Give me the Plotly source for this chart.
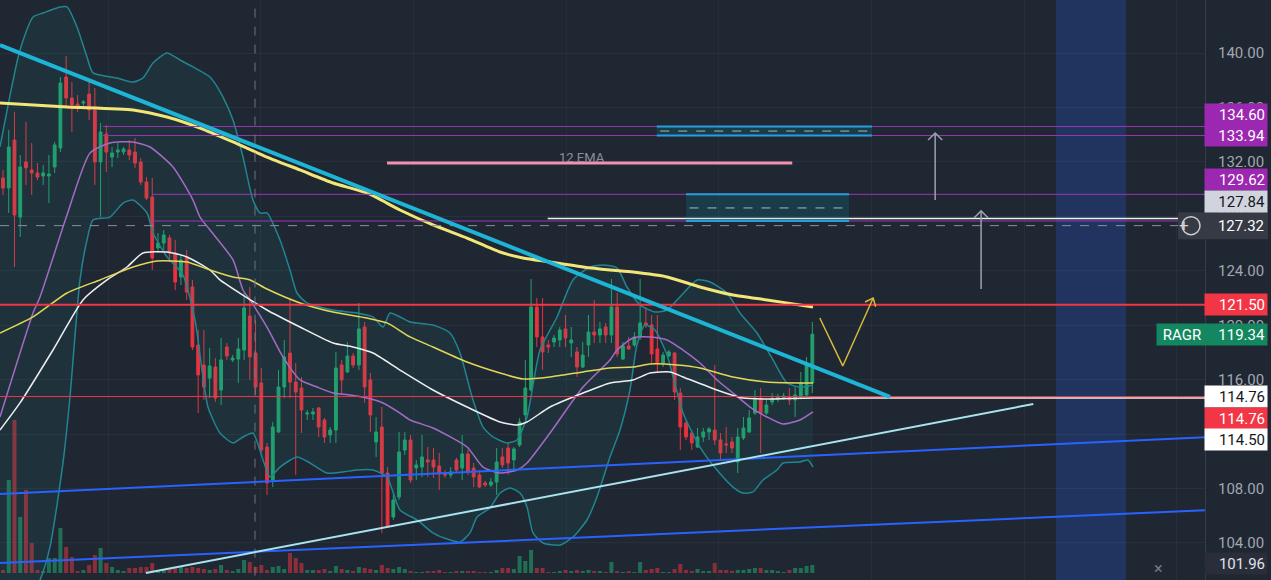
import math
import plotly.graph_objects as go

# ---------------- candle data (bar index 0..141) ----------------
open_ = [130.82,130.09,133.61,127.95,132.00,131.41,131.19,130.97,130.97,131.63,
         133.03,138.24,136.70,136.26,136.33,136.99,135.82,132.00,134.05,132.36,
         132.73,132.73,132.88,132.73,132.00,130.53,129.42,125.68,126.04,126.41,
         125.31,123.55,125.02,122.81,118.55,117.08,116.12,116.93,115.24,118.40,
         117.45,117.52,118.18,120.68,117.96,115.76,111.05,108.63,112.16,115.46,
         117.96,115.83,115.39,113.48,113.48,113.92,113.04,111.94,112.30,117.08,
         116.57,117.74,117.08,119.87,115.98,111.42,112.52,109.14,105.91,107.38,
         110.83,111.57,109.51,109.58,110.10,110.10,109.66,109.07,109.00,110.10,
         109.51,110.54,109.51,109.00,108.41,108.26,108.48,110.32,110.98,110.10,
         111.20,113.41,115.24,121.34,119.14,118.55,118.77,118.92,119.73,118.70,
         118.04,116.93,118.55,119.50,119.28,119.87,119.28,121.34,117.52,118.48,
         118.55,119.14,120.17,120.02,118.26,117.23,117.74,117.96,115.02,112.82,
         112.08,111.05,111.79,112.16,112.30,111.57,111.28,111.42,109.95,111.72,
         112.16,113.55,114.65,113.55,114.36,114.58,114.65,114.73,114.51,114.73,
         114.88,115.76]
high = [131.41,134.35,135.67,132.51,134.94,133.39,131.92,131.78,132.51,133.47,
        138.24,139.79,137.87,136.92,136.55,138.02,137.43,134.86,134.71,133.10,
        133.39,133.10,133.61,133.76,132.29,130.89,130.82,126.78,127.00,126.63,
        126.26,125.16,125.53,123.33,119.65,119.65,118.33,117.59,119.06,118.70,
        117.81,119.06,122.37,122.81,120.39,116.86,111.35,112.89,116.71,118.92,
        122.00,117.23,116.20,113.77,113.92,113.99,113.19,112.52,118.04,117.45,
        118.77,117.96,121.64,120.24,116.49,113.26,113.99,109.58,107.67,112.16,
        112.16,111.94,110.10,111.94,111.05,110.98,110.61,109.36,109.58,110.25,
        111.94,110.83,109.88,109.36,108.56,108.78,110.98,110.98,111.35,111.05,
        113.19,117.45,123.40,122.00,122.00,118.92,119.28,119.87,120.75,119.87,
        118.40,118.77,120.75,121.86,120.24,120.17,123.40,122.37,118.77,119.14,
        119.50,123.40,121.34,120.75,120.75,118.04,118.18,118.04,115.39,113.04,
        112.30,112.45,112.45,112.52,117.08,112.08,112.52,111.79,112.45,113.26,
        113.77,115.24,115.39,114.51,115.02,114.95,115.02,115.39,115.46,116.57,
        117.67,120.24]
low = [129.57,128.25,124.28,126.49,130.31,129.57,130.67,130.31,128.98,131.19,
       132.73,136.04,134.20,135.67,136.04,135.08,130.31,127.95,131.26,131.63,
       132.29,132.51,132.14,131.56,130.31,129.20,124.06,125.31,125.53,124.65,
       122.59,122.96,121.86,118.18,113.55,114.51,114.65,114.36,114.14,117.45,
       117.30,115.76,117.45,115.98,114.88,110.61,107.53,108.11,112.08,114.65,
       114.65,109.00,112.08,113.04,113.04,111.79,111.35,111.35,111.35,114.88,
       116.49,116.86,116.71,114.29,112.16,110.32,104.74,105.10,105.69,107.16,
       110.47,108.41,108.63,108.85,108.85,108.78,107.89,108.78,108.78,109.22,
       108.63,109.00,108.11,108.04,108.11,108.11,107.53,109.51,109.00,109.22,
       111.05,113.04,115.10,118.40,116.71,117.96,118.40,118.40,118.40,117.67,
       116.20,116.86,117.67,118.70,118.70,118.70,118.70,117.67,117.45,118.18,
       118.40,118.92,119.80,117.23,116.49,116.93,117.67,114.51,110.83,111.57,
       110.83,110.98,111.42,111.57,111.20,110.10,110.61,110.61,109.14,111.57,
       112.08,113.41,110.61,113.41,114.14,114.36,114.51,114.14,113.26,114.65,
       114.73,115.02]
close = [130.09,133.10,128.10,131.63,131.56,131.19,130.89,131.19,131.11,133.25,
         137.80,136.70,136.18,136.04,136.40,135.82,132.00,134.20,132.73,132.66,
         132.88,132.95,132.51,131.92,130.53,129.35,124.94,126.04,126.63,125.31,
         123.18,124.80,122.44,118.40,116.35,115.46,117.01,114.65,117.45,117.74,
         117.59,118.26,121.27,117.67,115.46,110.83,108.41,112.52,115.46,117.67,
         115.83,115.10,113.77,113.55,113.63,112.52,111.79,112.30,116.86,115.98,
         117.74,117.08,119.73,115.46,113.41,112.16,109.14,105.18,107.16,110.69,
         111.57,108.63,109.73,110.32,109.95,109.58,109.07,109.00,109.22,109.36,
         110.54,109.22,108.85,108.11,108.26,108.48,109.95,109.73,109.88,110.91,
         112.89,115.39,121.34,119.14,118.04,118.40,119.06,119.65,119.06,118.92,
         116.93,117.81,119.50,119.28,119.73,119.28,121.34,117.89,118.48,118.26,
         119.14,120.17,120.02,117.89,117.23,117.81,118.04,115.10,112.52,111.79,
         111.35,111.79,112.16,112.38,111.57,110.61,111.20,110.98,111.79,112.45,
         113.19,114.65,113.55,114.14,114.65,114.73,114.80,114.51,114.88,115.76,
         117.08,119.34]
volume = [3,93,153,56,83,30,3,2,15,15,45,26,16,2,3,8,18,25,10,6,
          3,2,5,5,6,6,10,3,4,5,5,6,5,6,5,4,3,4,8,3,
          2,4,13,11,6,8,3,6,7,4,20,15,10,3,3,3,4,2,7,4,
          3,2,6,5,4,3,8,5,4,6,4,2,1,1,2,2,3,1,1,2,
          2,2,2,1,1,1,3,5,5,4,17,12,23,5,5,1,1,2,3,2,
          3,2,3,2,2,1,11,2,1,2,1,11,3,4,5,1,1,4,9,3,
          2,4,2,2,10,3,3,2,3,3,4,5,5,3,3,2,1,3,5,5,
          7,8]
bar_index = list(range(len(open_)))

# ---------------- indicator lines (bar index, price) ----------------
ma200_x = [-0.52,11.15,22.65,28.57,34.32,40.07,45.99,51.74,57.49,63.41,69.16,74.91,
           80.84,86.59,90.59,95.30,101.05,105.75,109.76,115.68,121.43,127.18,133.10,138.85,141.11]
ma200_y = [136.33,136.04,135.82,135.30,134.49,133.47,132.36,131.41,130.45,129.72,128.47,127.37,
           126.41,125.38,124.94,124.65,124.28,124.06,123.91,123.55,122.81,122.22,121.86,121.49,121.34]

ma50_x = [-0.52,5.23,11.15,16.90,22.65,26.83,32.06,36.06,40.07,43.03,45.99,51.74,57.49,63.41,
          66.90,70.91,74.91,80.84,86.59,90.59,95.30,101.05,105.75,109.76,112.72,117.42,121.43,
          127.18,133.10,138.85,141.11]
ma50_y = [119.43,120.61,122.37,123.33,124.28,124.72,124.65,124.06,123.55,123.33,122.66,121.64,
          120.97,120.53,120.17,119.14,118.40,117.30,116.49,116.05,116.20,116.57,116.86,116.93,
          117.15,117.08,116.86,116.20,115.83,115.76,115.76]

ma20_x = [-0.52,2.96,8.71,13.94,18.12,21.60,24.39,28.57,32.06,36.06,37.80,45.99,51.74,57.49,
          60.98,64.46,69.16,74.91,80.84,86.59,89.55,91.29,95.30,101.05,105.75,109.76,112.72,
          116.20,118.47,124.39,128.92,133.10,141.11,209.5]
ma20_y = [112.30,114.29,118.18,121.86,123.33,124.28,125.31,125.38,125.02,124.06,123.33,121.12,
          119.87,118.70,118.40,117.96,116.71,115.24,113.99,112.89,112.67,112.89,113.99,115.02,
          115.76,115.98,116.49,116.57,116.20,115.24,114.65,114.58,114.66,114.66]

ema12_x = [-0.52,5.23,6.45,11.15,15.16,18.64,22.65,25.61,29.62,33.10,34.32,36.06,40.07,41.81,
           43.03,45.99,48.78,51.74,54.70,57.49,60.45,63.41,66.20,69.16,70.91,74.91,80.84,83.62,
           86.59,89.55,91.29,95.30,101.05,105.75,106.97,109.76,112.72,115.68,118.47,121.43,
           124.39,127.18,130.14,133.10,135.89,138.85,141.11]
ema12_y = [113.26,120.90,122.08,128.10,132.66,133.39,133.47,133.10,131.63,129.20,127.95,127.00,
           124.80,122.59,121.86,119.87,117.67,115.98,115.46,115.02,114.88,114.65,114.29,113.55,
           113.04,112.45,111.05,109.58,109.14,109.36,109.88,112.08,115.46,117.45,118.18,119.06,
           119.14,118.92,118.18,117.23,115.98,115.02,113.99,113.26,112.74,113.04,113.63]

bb_up_x = [-0.52,2.96,5.23,6.97,9.93,11.15,12.89,14.63,15.68,19.86,22.65,24.39,26.13,28.57,
           30.84,33.10,36.06,38.33,40.07,41.81,43.55,44.77,45.99,48.26,50.00,51.22,52.96,57.49,
           61.67,64.46,66.20,67.42,69.16,70.91,74.91,77.87,79.62,81.88,83.62,85.37,87.80,89.55,
           91.29,93.55,96.52,99.30,102.26,104.53,106.97,108.71,110.98,113.59,115.68,117.94,
           120.91,123.17,126.13,128.40,131.36,134.15,136.59,138.85,141.11]
bb_up_y = [133.10,140.23,142.65,142.94,143.39,143.39,141.92,139.71,138.54,138.17,137.87,138.17,
           139.27,140.01,139.49,138.98,138.24,136.77,135.08,132.36,129.20,128.25,128.25,126.26,
           124.06,122.37,121.64,121.12,120.90,120.61,119.87,120.90,120.61,120.24,120.02,119.43,
           117.96,114.51,112.52,111.79,111.35,111.57,113.26,118.18,120.61,123.33,124.28,124.43,
           124.21,122.81,121.49,120.97,121.12,122.08,123.33,123.18,122.37,120.90,119.43,117.45,
           115.76,115.46,115.61]
bb_lo_x = [-0.52,6.45,8.19,10.45,11.67,13.41,14.63,15.68,18.64,20.91,22.65,25.09,26.13,28.57,
           31.36,33.45,34.67,35.71,37.80,40.07,41.81,43.55,45.30,46.52,48.26,51.22,53.48,56.45,
           59.23,61.67,64.46,66.90,69.16,72.13,74.91,77.87,79.62,81.36,82.58,84.84,86.59,88.33,
           90.07,91.29,92.33,94.08,97.04,99.30,101.74,103.48,105.75,107.49,109.23,110.45,111.85,
           113.59,115.68,118.47,121.43,124.39,127.18,128.92,130.66,132.40,134.84,135.89,138.85,
           140.24,141.11]
bb_lo_y = [96.00,101.28,103.71,109.88,114.73,123.33,126.26,127.73,127.95,128.98,129.20,128.25,
           126.78,125.02,123.69,120.39,116.71,113.99,112.08,111.35,111.79,112.08,110.10,108.85,
           109.58,110.32,109.88,109.14,109.22,109.36,109.36,108.85,106.42,105.69,104.74,104.22,
           104.07,104.74,105.91,106.57,107.67,108.04,107.67,106.65,104.74,104.00,103.85,104.44,
           105.69,107.38,110.32,112.30,115.24,118.55,120.02,119.65,117.81,113.55,111.05,109.36,
           108.11,107.67,107.75,108.63,109.36,109.88,109.95,110.10,109.58]

# ---------------- drawings ----------------
down_trend_x = [-0.52, 154.53]; down_trend_y = [140.59, 114.73]
up_trend_x = [24.9, 179.5];     up_trend_y = [101.80, 114.21]
blue_up_x = [-0.52, 209.5];     blue_up_y = [107.60, 111.78]
blue_lo_x = [-0.52, 209.5];     blue_lo_y = [102.53, 106.41]
ema_label_line_x = [66.9, 137.5]; ema_label_line_y = 131.92
purple_levels = [134.60, 133.94, 129.62, 127.66]
purple_starts = [17.4, 17.4, 26.0, 26.0]
red_levels = [121.50, 114.76]
white_level, white_start = 127.84, 94.9
crosshair_x, crosshair_y = 43.9, 127.32
pos_boxes = [  # x0, x1, top, bottom, middle
    (113.9, 151.4, 134.60, 133.94, 134.27),
    (119.0, 147.4, 129.62, 127.66, 128.62),
]
up_arrows = [(162.4, 129.20, 134.13), (170.4, 122.66, 128.40)]
zigzag_x = [142.3, 146.3, 151.6]; zigzag_y = [120.53, 117.01, 122.00]
future_band = (183.45, 195.64)
price_ticks = [104, 108, 112, 116, 120, 124, 128, 132, 136, 140]

# ---------------- styling ----------------
BG = "#1f2733"
GREEN = "#22a06b"
RED = "#e5333f"
X_MIN, X_MAX = -0.523, 209.41
Y_MIN, Y_MAX = 101.28, 143.90
PLOT_W, PLOT_H = 1205, 580
SX = PLOT_W / (X_MAX - X_MIN)
SY = PLOT_H / (Y_MAX - Y_MIN)
FONT = "Roboto"
PY = "y2"   # price axis

fig = go.Figure()

# volume (base axis, drawn underneath everything)
vol_colors = ["rgba(34,160,107,0.6)" if c >= o else "rgba(229,51,63,0.55)" for o, c in zip(open_, close)]
fig.add_trace(go.Bar(x=bar_index, y=volume, marker=dict(color=vol_colors, line=dict(width=0)),
                     width=0.7, yaxis="y", hoverinfo="skip"))

def line(x, y, color, width, dash=None, smooth=False):
    ln = dict(color=color, width=width, dash=dash)
    if smooth:
        ln.update(shape="spline", smoothing=0.6)
    fig.add_trace(go.Scatter(x=x, y=y, mode="lines", line=ln, yaxis=PY, hoverinfo="skip"))

# Bollinger fill and lines
fig.add_trace(go.Scatter(x=bb_up_x + bb_lo_x[::-1], y=bb_up_y + bb_lo_y[::-1], fill="toself",
                         fillcolor="rgba(38,166,154,0.09)", line=dict(width=0), mode="lines",
                         yaxis=PY, hoverinfo="skip"))
line(bb_up_x, bb_up_y, "#21858f", 1.5, smooth=True)
line(bb_lo_x, bb_lo_y, "#21858f", 1.5, smooth=True)

# moving averages
line(ema12_x, ema12_y, "#a46bc4", 1.5, smooth=True)
line(ma20_x, ma20_y, "#eeeeee", 1.5, smooth=True)
line(ma50_x, ma50_y, "#e2d756", 1.5, smooth=True)

# candles
fig.add_trace(go.Candlestick(x=bar_index, open=open_, high=high, low=low, close=close,
                             increasing=dict(line=dict(color=GREEN, width=1), fillcolor=GREEN),
                             decreasing=dict(line=dict(color=RED, width=1), fillcolor=RED),
                             whiskerwidth=0, yaxis=PY, hoverinfo="skip"))

line(ma200_x, ma200_y, "#f3e678", 3, smooth=True)

# horizontal levels
for lv, st in zip(purple_levels, purple_starts):
    line([st, X_MAX + 1], [lv, lv], "#9a35b5", 1)
line([white_start, X_MAX + 1], [white_level] * 2, "#f0f0f0", 1.5)
line([X_MIN, X_MAX + 1], [red_levels[0]] * 2, "#f23645", 2)
line([X_MIN, X_MAX + 1], [red_levels[1]] * 2, "#f23645", 1)
line([X_MIN, X_MAX + 1], [crosshair_y] * 2, "#8a909c", 1, "dash")
line([crosshair_x, crosshair_x], [Y_MIN - 1, Y_MAX + 1], "#6f7682", 1, "dash")

# trend lines
line(blue_up_x, blue_up_y, "#2962ff", 2)
line(blue_lo_x, blue_lo_y, "#2962ff", 2)
line(up_trend_x, up_trend_y, "#a8e3ee", 2)
line(down_trend_x, down_trend_y, "#1db4d6", 4)
line(ema_label_line_x, [ema_label_line_y] * 2, "#f48fb1", 3)

# position boxes
shapes = []
for x0, x1, top, bot, mid in pos_boxes:
    shapes.append(dict(type="rect", xref="x", yref=PY, x0=x0, x1=x1, y0=bot, y1=top,
                       fillcolor="rgba(0,188,212,0.14)", line=dict(width=0), layer="above"))
    for lv in (top, bot):
        line([x0, x1], [lv, lv], "#2a9be0", 2)
    line([x0 + 0.6, x1 - 0.6], [mid, mid], "#b8bcc4", 1, "dash")

def head(xa, ya, xb, yb, size, ang):
    ux, uy = (xa - xb) * SX, (ya - yb) * SY
    n = math.hypot(ux, uy); ux, uy = ux / n, uy / n
    pts = []
    for s in (1, -1):
        a = math.radians(ang) * s
        rx = ux * math.cos(a) - uy * math.sin(a)
        ry = ux * math.sin(a) + uy * math.cos(a)
        pts.append((xb + rx * size / SX, yb + ry * size / SY))
    return [pts[0][0], xb, pts[1][0]], [pts[0][1], yb, pts[1][1]]

for ax_, y0, y1 in up_arrows:
    line([ax_, ax_], [y0, y1], "#9aa2ad", 1.5)
    hx, hy = head(ax_, y0, ax_, y1, 10, 45)
    line(hx, hy, "#9aa2ad", 1.5)

line(zigzag_x, zigzag_y, "#d8b83a", 1.5)
hx, hy = head(zigzag_x[1], zigzag_y[1], zigzag_x[2], zigzag_y[2], 9, 40)
line(hx, hy, "#d8b83a", 1.5)

# future band
shapes.append(dict(type="rect", xref="x", yref="paper", x0=future_band[0], x1=future_band[1], y0=0, y1=1,
                   fillcolor="rgba(41,98,255,0.22)", line=dict(width=0), layer="between"))

# crosshair price tag box and plus circle
PX = lambda p: p / PLOT_W
shapes.append(dict(type="rect", xref="paper", yref=PY, x0=PX(1178), x1=PX(1268), ysizemode="pixel",
                   yanchor=crosshair_y, y0=-13.5, y1=13.5, fillcolor="#363a45", line=dict(width=0), layer="above"))
shapes.append(dict(type="circle", xref="paper", yref=PY, xsizemode="pixel", xanchor=PX(1191), x0=-9, x1=9,
                   ysizemode="pixel", yanchor=crosshair_y, y0=-9, y1=9, line=dict(color="#c9ccd3", width=1.5), layer="above"))

annotations = []
annotations.append(dict(x=100.9, y=132.36, xref="x", yref=PY, text="12 EMA", showarrow=False,
                        font=dict(family=FONT, size=13, color="#8b909a")))
annotations.append(dict(x=PX(1191), y=crosshair_y, xref="paper", yref=PY, text="+", showarrow=False,
                        font=dict(family=FONT, size=17, color="#d1d4dc"), yshift=1))
annotations.append(dict(x=PX(1204), y=crosshair_y, xref="paper", yref=PY, xanchor="left", width=58, align="right",
                        text="127.32", showarrow=False, font=dict(family=FONT, size=15, color="#ffffff")))

labels = [  # price, text, bg, fg, shift
    (134.60, "134.60", "#9c27b0", "#ffffff", 12),
    (133.94, "133.94", "#9c27b0", "#ffffff", 0),
    (129.62, "129.62", "#9c27b0", "#ffffff", 15),
    (127.84, "127.84", "#d1d4dc", "#131722", 17.5),
    (121.50, "121.50", "#f23645", "#ffffff", 0),
    (114.76, "114.76", "#ffffff", "#131722", 0),
    (114.76, "114.76", "#f23645", "#ffffff", -21.5),
    (114.50, "114.50", "#ffffff", "#131722", -39),
    (101.96, "101.96", "#2a2e39", "#e0e3eb", 7),
]
for p, t, bg, fg, sh in labels:
    annotations.append(dict(x=PX(1204), y=p, xref="paper", yref=PY, xanchor="left", yshift=sh,
                            text=t, showarrow=False, bgcolor=bg, width=58, height=17, borderpad=2,
                            align="right", font=dict(family=FONT, size=15, color=fg)))
# symbol tag
annotations.append(dict(x=PX(1156), y=close[-1], xref="paper", yref=PY, xanchor="left",
                        text="&nbsp;RAGR", showarrow=False, bgcolor="#13875f", width=106, height=17,
                        borderpad=2, align="left", font=dict(family=FONT, size=15, color="#ffffff")))
annotations.append(dict(x=PX(1204), y=close[-1], xref="paper", yref=PY, xanchor="left",
                        text=f"{close[-1]:.2f}", showarrow=False, width=58, height=17, borderpad=2,
                        align="right", font=dict(family=FONT, size=15, color="#ffffff")))
annotations.append(dict(x=PX(1165), y=0.0, xref="paper", yref="paper", yanchor="bottom",
                        text="×", showarrow=False, font=dict(family=FONT, size=16, color="#787b86")))

fig.update_layout(
    width=1271, height=580,
    margin=dict(l=0, r=66, t=0, b=0),
    paper_bgcolor=BG, plot_bgcolor=BG,
    showlegend=False,
    hovermode=False,
    xaxis=dict(range=[X_MIN, X_MAX], showticklabels=False, zeroline=False, showline=False,
               showgrid=True, gridcolor="rgba(255,255,255,0.035)", tick0=18.3, dtick=26.6,
               rangeslider=dict(visible=False), ticks=""),
    yaxis=dict(range=[-7, 573], visible=False, showgrid=False, zeroline=False, fixedrange=True),
    yaxis2=dict(range=[Y_MIN, Y_MAX], side="right", overlaying="y", anchor="x", tickvals=price_ticks,
                ticktext=[f"{v:.2f}" for v in price_ticks], showgrid=True,
                gridcolor="rgba(255,255,255,0.045)", zeroline=False, showline=True,
                linecolor="#363c4a", linewidth=1, ticks="", ticklabelstandoff=9,
                tickfont=dict(family=FONT, size=15, color="#a3a6af")),
    shapes=shapes,
    annotations=annotations,
)

fig.write_html("out.html", config={"displayModeBar": False},
               post_script="document.body.style.margin='0';document.body.style.overflow='hidden';")
